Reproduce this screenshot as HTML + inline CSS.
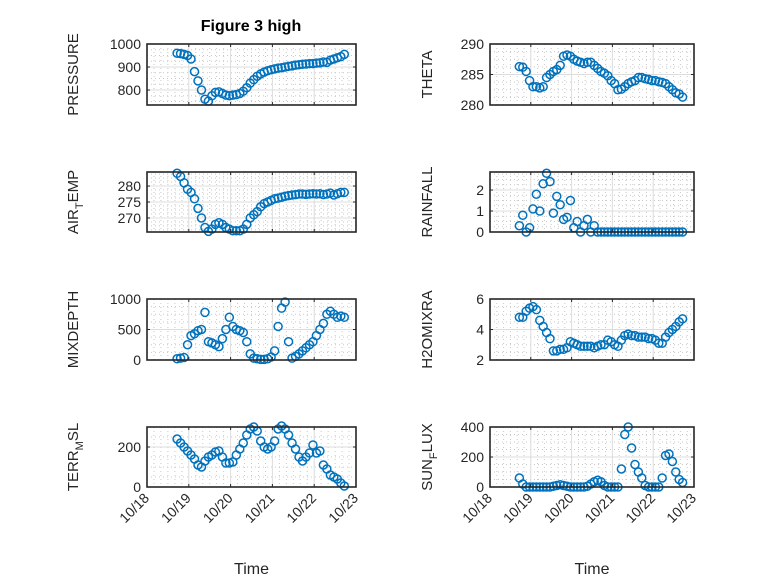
<!DOCTYPE html>
<html><head><meta charset="utf-8"><style>
html,body{margin:0;padding:0;background:#fff;}
svg{display:block;font-family:"Liberation Sans",sans-serif;}
</style></head><body>
<svg id="fig" width="778" height="583" viewBox="0 0 778 583" xmlns="http://www.w3.org/2000/svg">
<rect width="778" height="583" fill="#fff"/>
<text x="251" y="31" text-anchor="middle" font-size="16" font-weight="bold" fill="#000">Figure 3 high</text>
</svg>
<script>
// time in days since 10/18 00:00, 2-hour samples
const startDay = 0.72;
const dayTicks = ['10/18','10/19','10/20','10/21','10/22','10/23'];
const pressure = [960,958,955,950,935,880,840,800,760,752,775,790,792,785,778,775,778,780,785,795,810,830,845,860,870,878,884,888,892,895,897,900,903,905,908,910,912,913,915,915,917,918,922,920,930,935,940,945,955];
const airTemp = [284,283,281,279,278,276,273,270,267,265.8,266.5,268,268.5,268,267,266.5,266,266,266,266.5,268,270,271,272,273.5,274.5,275,275.5,276,276.2,276.5,276.8,277,277.2,277.3,277.5,277.5,277.4,277.5,277.6,277.5,277.6,277.3,277.5,277.8,277.2,277.6,278,278];
const mixDepth = [20,30,40,250,400,430,480,500,780,300,280,250,220,350,500,700,550,500,480,450,300,100,30,20,10,10,20,50,150,550,850,950,300,30,60,100,150,200,250,300,400,500,600,750,800,750,700,720,700];
const terrMsl = [240,220,200,180,160,140,110,100,130,150,160,175,180,150,120,120,125,160,190,220,260,290,300,280,230,200,190,200,230,290,305,290,260,220,190,150,130,150,170,210,170,180,110,90,60,50,40,20,5];
const theta = [286.3,286.2,285.5,284,283,283,282.8,283,284.5,285,285.5,285.8,286.5,288,288.2,288,287.5,287.2,287,286.8,287,287,286.5,286,285.5,285.2,284.8,284,283.5,282.5,282.6,283,283.5,283.8,284,284.5,284.5,284.3,284.2,284,284,283.8,283.7,283.5,283,282.5,282,281.8,281.3];
const rainfall = [0.3,0.8,0,0.2,1.1,1.8,1.0,2.3,2.8,2.4,0.9,1.7,1.3,0.6,0.7,1.5,0.2,0.5,0,0.3,0.6,0,0.3,0,0,0,0,0,0,0,0,0,0,0,0,0,0,0,0,0,0,0,0,0,0,0,0,0,0];
const h2oMix = [4.8,4.8,5.2,5.4,5.5,5.3,4.6,4.2,3.8,3.4,2.6,2.6,2.7,2.7,2.8,3.2,3.1,3.0,2.9,2.9,2.9,2.9,2.8,2.9,3.0,3.0,3.3,3.2,3.0,2.9,3.3,3.6,3.7,3.6,3.6,3.5,3.5,3.5,3.4,3.4,3.3,3.1,3.1,3.5,3.8,4.0,4.2,4.5,4.7];
const sunFlux = [60,20,0,0,0,0,0,0,0,0,5,10,15,10,5,0,0,0,0,0,5,20,35,45,35,10,0,0,0,0,120,350,400,260,150,100,60,10,0,0,0,0,60,210,220,170,100,50,30];

const NS='http://www.w3.org/2000/svg';
const svg=document.getElementById('fig');
function mk(tag,attrs,parent){const e=document.createElementNS(NS,tag);for(const k in attrs)e.setAttribute(k,attrs[k]);(parent||svg).appendChild(e);return e;}

const panels=[
 {name:'pressure',data:pressure,x0:147,x1:356,y0:44,y1:105,lo:735,hi:1000,ticks:[800,900,1000],minor:25,label:['PRESSURE'],lx:78,bottom:false},
 {name:'air-temp',data:airTemp,x0:147,x1:356,y0:172,y1:232,lo:265.6,hi:284.4,ticks:[270,275,280],minor:1.25,label:['AIR','T','EMP'],lx:78,bottom:false},
 {name:'mixdepth',data:mixDepth,x0:147,x1:356,y0:299,y1:360,lo:0,hi:1000,ticks:[0,500,1000],minor:125,label:['MIXDEPTH'],lx:78,bottom:false},
 {name:'terr-msl',data:terrMsl,x0:147,x1:356,y0:427,y1:487,lo:0,hi:300,ticks:[0,200],minor:50,label:['TERR','M','SL'],lx:78,bottom:true},
 {name:'theta',data:theta,x0:490,x1:694,y0:44,y1:105,lo:280,hi:290,ticks:[280,285,290],minor:1.25,label:['THETA'],lx:432,bottom:false},
 {name:'rainfall',data:rainfall,x0:490,x1:694,y0:172,y1:232,lo:0,hi:2.86,ticks:[0,1,2],minor:0.25,label:['RAINFALL'],lx:432,bottom:false},
 {name:'h2omixra',data:h2oMix,x0:490,x1:694,y0:299,y1:360,lo:2,hi:6,ticks:[2,4,6],minor:0.5,label:['H2OMIXRA'],lx:432,bottom:false},
 {name:'sun-flux',data:sunFlux,x0:490,x1:694,y0:427,y1:487,lo:0,hi:400,ticks:[0,200,400],minor:50,label:['SUN','F','LUX'],lx:432,bottom:true}
];

panels.forEach(p=>{
 const g=mk('g',{});
 
 
 const xs=t=>p.x0+(p.x1-p.x0)*t/5;
 const ys=v=>p.y1-(p.y1-p.y0)*(v-p.lo)/(p.hi-p.lo);
 for(let d=0;d<5;d++)for(let m=1;m<6;m++){const x=xs(d+m/6);mk('line',{x1:x,x2:x,y1:p.y0,y2:p.y1,stroke:'#c8c8c8','stroke-width':1,'stroke-dasharray':'1,3'},g);}
 for(let v=Math.ceil(p.lo/p.minor)*p.minor;v<=p.hi;v+=p.minor){const y=ys(v);mk('line',{x1:p.x0,x2:p.x1,y1:y,y2:y,stroke:'#c8c8c8','stroke-width':1,'stroke-dasharray':'1,3'},g);}
 for(let d=1;d<5;d++){const x=xs(d);mk('line',{x1:x,x2:x,y1:p.y0,y2:p.y1,stroke:'#dcdcdc','stroke-width':1},g);}
 p.ticks.forEach(v=>{const y=ys(v);mk('line',{x1:p.x0,x2:p.x1,y1:y,y2:y,stroke:'#dcdcdc','stroke-width':1},g);});
 p.data.forEach((v,k)=>{
  const c=mk('circle',{cx:xs(startDay+k/12),cy:ys(v),r:4,fill:'none',stroke:'#0072BD','stroke-width':1.5},g);
  
  
 });
 mk('rect',{x:p.x0,y:p.y0,width:p.x1-p.x0,height:p.y1-p.y0,fill:'none',stroke:'#262626','stroke-width':1.6},g);
 for(let d=0;d<=5;d++){const x=xs(d);mk('line',{x1:x,x2:x,y1:p.y1,y2:p.y1-3,stroke:'#262626'},g);mk('line',{x1:x,x2:x,y1:p.y0,y2:p.y0+3,stroke:'#262626'},g);}
 p.ticks.forEach(v=>{const y=ys(v);mk('line',{x1:p.x0,x2:p.x0+3,y1:y,y2:y,stroke:'#262626'},g);mk('line',{x1:p.x1,x2:p.x1-3,y1:y,y2:y,stroke:'#262626'},g);
  const t=mk('text',{x:p.x0-6,y:y+5,'text-anchor':'end','font-size':14,fill:'#262626'},g);t.textContent=String(v);
  
  
 });
 const cy=(p.y0+p.y1)/2;
 const yl=mk('text',{x:p.lx,y:cy,'text-anchor':'middle','font-size':15,fill:'#262626',transform:`rotate(-90 ${p.lx} ${cy})`},g);
 
 
 if(p.label.length===1){yl.textContent=p.label[0];}
 else{const a=mk('tspan',{},yl);a.textContent=p.label[0];const b=mk('tspan',{'font-size':11,dy:5},yl);b.textContent=p.label[1];const c=mk('tspan',{dy:-5},yl);c.textContent=p.label[2];}
 if(p.bottom){
  dayTicks.forEach((lab,d)=>{const x=xs(d);const t=mk('text',{x:x+3,y:p.y1+12,'text-anchor':'end','font-size':14,fill:'#262626',transform:`rotate(-45 ${x+3} ${p.y1+12})`},g);t.textContent=lab;
   
   });
  const xc=(p.x0+p.x1)/2;
  const xl=mk('text',{x:xc,y:574,'text-anchor':'middle','font-size':16,fill:'#262626'},g);xl.textContent='Time';
  
  
 }
});
</script>
</body></html>
